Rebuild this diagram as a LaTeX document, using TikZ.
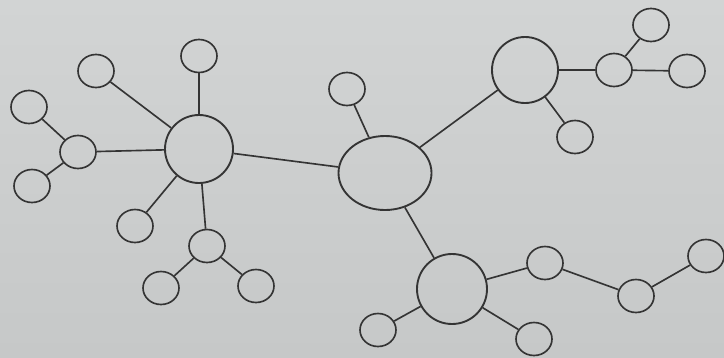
\documentclass[tikz,border=0pt]{standalone}
\usetikzlibrary{shapes.geometric}
\definecolor{paper}{RGB}{198,200,200}
\definecolor{paperlight}{RGB}{210,212,212}
\definecolor{pencil}{RGB}{52,52,52}
\tikzset{
  % Network sketch
  hubnode/.style  = { draw=pencil, ellipse, line width=1.6pt, inner sep=0 },
  leafnode/.style = { draw=pencil, ellipse, line width=1.4pt, inner sep=0,
                       minimum width=10.8mm, minimum height=9.9mm },
  link/.style     = { draw=pencil, line width=1.4pt }
}
\begin{document}
\begin{tikzpicture}[x=0.3mm, y=-0.3mm]

  \shade[top color=paperlight, bottom color=paper] (0,0) rectangle (724,357);
  \useasboundingbox (0,0) rectangle (724,357);

  % hubs
  \node[hubnode, minimum width=20.4mm, minimum height=20.4mm] (left) at (199,149) {};
  \node[hubnode, minimum width=27.9mm, minimum height=22.2mm] (mid) at (385,173) {};
  \node[hubnode, minimum width=19.8mm, minimum height=19.8mm] (upright) at (525,70) {};
  \node[hubnode, minimum width=21mm, minimum height=21mm] (lowright) at (452,289) {};

  % leaves round the left hub
  \node[leafnode] (l1) at (96,71) {};
  \node[leafnode] (l2) at (199,56) {};
  \node[leafnode] (l3) at (78,152) {};
  \node[leafnode] (l3a) at (29,107) {};
  \node[leafnode] (l3b) at (32,186) {};
  \node[leafnode] (l4) at (135,226) {};
  \node[leafnode] (l5) at (207,246) {};
  \node[leafnode] (l5a) at (161,288) {};
  \node[leafnode] (l5b) at (256,286) {};

  % leaves round the middle and right hubs
  \node[leafnode] (m1) at (347,89) {};
  \node[leafnode] (u1) at (614,70) {};
  \node[leafnode] (u1a) at (651,25) {};
  \node[leafnode] (u1b) at (687,71) {};
  \node[leafnode] (u2) at (575,137) {};
  \node[leafnode] (d1) at (545,263) {};
  \node[leafnode] (d1a) at (636,296) {};
  \node[leafnode] (d1b) at (706,256) {};
  \node[leafnode] (d2) at (378,330) {};
  \node[leafnode] (d3) at (534,339) {};

  \draw[link] (left) -- (l1);
  \draw[link] (left) -- (l2);
  \draw[link] (left) -- (l3);
  \draw[link] (l3) -- (l3a);
  \draw[link] (l3) -- (l3b);
  \draw[link] (left) -- (l4);
  \draw[link] (left) -- (l5);
  \draw[link] (l5) -- (l5a);
  \draw[link] (l5) -- (l5b);
  \draw[link] (left) -- (mid);

  \draw[link] (mid) -- (m1);
  \draw[link] (mid) -- (upright);
  \draw[link] (mid) -- (lowright);

  \draw[link] (upright) -- (u1);
  \draw[link] (u1) -- (u1a);
  \draw[link] (u1) -- (u1b);
  \draw[link] (upright) -- (u2);

  \draw[link] (lowright) -- (d1);
  \draw[link] (d1) -- (d1a);
  \draw[link] (d1a) -- (d1b);
  \draw[link] (lowright) -- (d2);
  \draw[link] (lowright) -- (d3);

\end{tikzpicture}
\end{document}
